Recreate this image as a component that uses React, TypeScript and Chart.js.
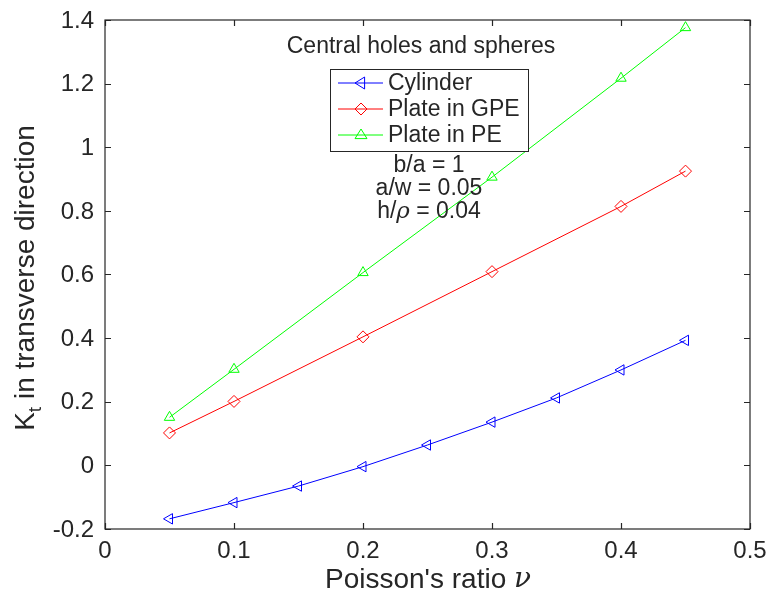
import React, { useEffect, useRef } from "react";
import { Chart, registerables } from "chart.js";

Chart.register(...registerables);

const nuCylinder = [0.05, 0.1, 0.15, 0.2, 0.25, 0.3, 0.35, 0.4, 0.45];
const ktCylinder = [-0.168, -0.117, -0.065, -0.004, 0.064, 0.136, 0.212, 0.3, 0.393];
const nuPlate = [0.05, 0.1, 0.2, 0.3, 0.4, 0.45];
const ktPlateGPE = [0.102, 0.201, 0.404, 0.609, 0.814, 0.925];
const ktPlatePE = [0.151, 0.302, 0.606, 0.906, 1.217, 1.376];
const xTicks = [0, 0.1, 0.2, 0.3, 0.4, 0.5];
const yTicks = [-0.2, 0, 0.2, 0.4, 0.6, 0.8, 1, 1.2, 1.4];
const xTickLabels = ["0", "0.1", "0.2", "0.3", "0.4", "0.5"];
const yTickLabels = ["-0.2", "0", "0.2", "0.4", "0.6", "0.8", "1", "1.2", "1.4"];
const seriesNames = ["Cylinder", "Plate in GPE", "Plate in PE"];
const seriesColors = ["#0000ff", "#ff0000", "#00ff00"];
const titleText = "Central holes and spheres";
const noteLines = ["b/a = 1", "a/w = 0.05", "h/\u03C1 = 0.04"];

const FONT = '"Liberation Sans", Arial, Helvetica, sans-serif';
const SERIF_IT = 'italic 23px "DejaVu Serif", "Liberation Serif", serif';
const TXT = "#262626";

function drawMarker(ctx: CanvasRenderingContext2D, kind: number, x: number, y: number, color: string) {
  ctx.save();
  ctx.strokeStyle = color;
  ctx.lineWidth = 1;
  ctx.fillStyle = "#ffffff";
  ctx.beginPath();
  const r = 6;
  if (kind === 0) {
    ctx.moveTo(x - r, y);
    ctx.lineTo(x + r * 0.6, y - r);
    ctx.lineTo(x + r * 0.6, y + r);
  } else if (kind === 1) {
    ctx.moveTo(x, y - r);
    ctx.lineTo(x + r, y);
    ctx.lineTo(x, y + r);
    ctx.lineTo(x - r, y);
  } else {
    ctx.moveTo(x, y - r);
    ctx.lineTo(x + r, y + r * 0.6);
    ctx.lineTo(x - r, y + r * 0.6);
  }
  ctx.closePath();
  ctx.stroke();
  ctx.restore();
}

const decorPlugin = {
  id: "decor",
  afterDraw(chart: any) {
    const ctx: CanvasRenderingContext2D = chart.ctx;
    const { left, top, right, bottom } = chart.chartArea;
    const xs = chart.scales.x;
    const ys = chart.scales.y;
    ctx.save();
    // frame
    ctx.strokeStyle = TXT;
    ctx.lineWidth = 1.2;
    ctx.strokeRect(left, top, right - left, bottom - top);
    // inward ticks
    const tl = 6;
    ctx.beginPath();
    xTicks.forEach((v) => {
      const px = Math.round(xs.getPixelForValue(v)) + 0.5;
      ctx.moveTo(px, bottom);
      ctx.lineTo(px, bottom - tl);
      ctx.moveTo(px, top);
      ctx.lineTo(px, top + tl);
    });
    yTicks.forEach((v) => {
      const py = Math.round(ys.getPixelForValue(v)) + 0.5;
      ctx.moveTo(left, py);
      ctx.lineTo(left + tl, py);
      ctx.moveTo(right, py);
      ctx.lineTo(right - tl, py);
    });
    ctx.stroke();

    // tick labels
    ctx.fillStyle = TXT;
    ctx.font = `24px ${FONT}`;
    ctx.textBaseline = "middle";
    ctx.textAlign = "center";
    xTicks.forEach((v, i) => {
      ctx.fillText(xTickLabels[i], xs.getPixelForValue(v), bottom + 22);
    });
    ctx.textAlign = "right";
    yTicks.forEach((v, i) => {
      ctx.fillText(yTickLabels[i], left - 11, ys.getPixelForValue(v) + 1);
    });

    // title text inside
    ctx.fillStyle = TXT;
    ctx.textAlign = "center";
    ctx.textBaseline = "middle";
    ctx.font = `23px ${FONT}`;
    ctx.fillText(titleText, 421, 47);

    // legend
    const lx = 330, ly = 69, lw = 198, lh = 82;
    ctx.fillStyle = "#ffffff";
    ctx.fillRect(lx, ly, lw, lh);
    ctx.strokeStyle = TXT;
    ctx.lineWidth = 1;
    ctx.strokeRect(lx + 0.5, ly + 0.5, lw, lh);
    const rowsY = [83, 109, 135];
    seriesNames.forEach((name, i) => {
      const y = rowsY[i];
      ctx.strokeStyle = seriesColors[i];
      ctx.lineWidth = 1;
      ctx.beginPath();
      ctx.moveTo(338, y);
      ctx.lineTo(383, y);
      ctx.stroke();
      drawMarker(ctx, i, 361, y, seriesColors[i]);
      ctx.fillStyle = TXT;
      ctx.textAlign = "left";
      ctx.textBaseline = "middle";
      ctx.font = `23px ${FONT}`;
      ctx.fillText(name, 388, y + 1);
    });

    // notes
    ctx.textAlign = "center";
    const noteY = [166, 189, 212];
    noteLines.forEach((t, i) => {
      if (i === 2) {
        const a = "h/";
        const b = "\u03C1";
        const c = " = 0.04";
        ctx.font = `23px ${FONT}`;
        const wa = ctx.measureText(a).width;
        const wc = ctx.measureText(c).width;
        ctx.font = SERIF_IT;
        const wb = ctx.measureText(b).width;
        const total = wa + wb + wc;
        const x0 = 429 - total / 2;
        ctx.textAlign = "left";
        ctx.font = `23px ${FONT}`;
        ctx.fillText(a, x0, noteY[i]);
        ctx.font = SERIF_IT;
        ctx.fillText(b, x0 + wa, noteY[i]);
        ctx.font = `23px ${FONT}`;
        ctx.fillText(c, x0 + wa + wb, noteY[i]);
        ctx.textAlign = "center";
      } else {
        ctx.font = `23px ${FONT}`;
        ctx.fillText(t, 429, noteY[i]);
      }
    });

    // x axis title
    {
      const a = "Poisson's ratio ";
      const b = "\u03BD";
      ctx.font = `28px ${FONT}`;
      const wa = ctx.measureText(a).width;
      ctx.font = `italic 28px "DejaVu Serif", "Liberation Serif", serif`;
      const wb = ctx.measureText(b).width;
      const x0 = 428 - (wa + wb) / 2;
      ctx.textAlign = "left";
      ctx.textBaseline = "middle";
      ctx.fillStyle = TXT;
      ctx.font = `28px ${FONT}`;
      ctx.fillText(a, x0, 580);
      ctx.font = `italic 28px "DejaVu Serif", "Liberation Serif", serif`;
      ctx.fillText(b, x0 + wa, 580);
    }

    // y axis title
    {
      ctx.translate(26, 278);
      ctx.rotate(-Math.PI / 2);
      const a = "K";
      const s = "t";
      const c = " in transverse direction";
      ctx.font = `28px ${FONT}`;
      const wa = ctx.measureText(a).width;
      const wc = ctx.measureText(c).width;
      ctx.font = `19px ${FONT}`;
      const ws = ctx.measureText(s).width;
      const x0 = -(wa + ws + wc) / 2;
      ctx.textAlign = "left";
      ctx.textBaseline = "middle";
      ctx.fillStyle = TXT;
      ctx.font = `28px ${FONT}`;
      ctx.fillText(a, x0, 0);
      ctx.font = `19px ${FONT}`;
      ctx.fillText(s, x0 + wa, 10);
      ctx.font = `28px ${FONT}`;
      ctx.fillText(c, x0 + wa + ws, 0);
    }
    ctx.restore();
  },
};

export default function App() {
  const ref = useRef<HTMLCanvasElement | null>(null);
  useEffect(() => {
    document.body.style.margin = "0";
    const canvas = ref.current;
    if (!canvas) return;
    const mk = (xs: number[], ys: number[]) => xs.map((x, i) => ({ x, y: ys[i] }));
    const common = {
      backgroundColor: "rgba(0,0,0,0)",
      borderWidth: 1,
      pointRadius: 6,
      pointBorderWidth: 1,
      pointBackgroundColor: "rgba(0,0,0,0)",
    };
    const chart = new Chart(canvas, {
      type: "line",
      data: {
        datasets: [
          {
            ...common,
            label: seriesNames[0],
            data: mk(nuCylinder, ktCylinder),
            borderColor: seriesColors[0],
            pointBorderColor: seriesColors[0],
            pointStyle: "triangle",
            rotation: -90,
          },
          {
            ...common,
            label: seriesNames[1],
            data: mk(nuPlate, ktPlateGPE),
            borderColor: seriesColors[1],
            pointBorderColor: seriesColors[1],
            pointStyle: "rectRot",
          },
          {
            ...common,
            label: seriesNames[2],
            data: mk(nuPlate, ktPlatePE),
            borderColor: seriesColors[2],
            pointBorderColor: seriesColors[2],
            pointStyle: "triangle",
          },
        ],
      },
      options: {
        responsive: false,
        animation: false,
        layout: { padding: { top: 20, right: 22, left: 0, bottom: 0 } },
        plugins: { legend: { display: false }, tooltip: { enabled: false } },
        elements: { line: { tension: 0 } },
        scales: {
          x: {
            type: "linear",
            min: 0,
            max: 0.5,
            afterFit: (s: any) => {
              s.height = 70;
            },
            ticks: { display: false },
            grid: { display: false, drawTicks: false },
            border: { display: false },
          },
          y: {
            type: "linear",
            min: -0.2,
            max: 1.4,
            afterFit: (s: any) => {
              s.width = 105;
            },
            ticks: { display: false },
            grid: { display: false, drawTicks: false },
            border: { display: false },
          },
        },
      },
      plugins: [decorPlugin],
    } as any);
    return () => chart.destroy();
  }, []);
  return <canvas ref={ref} width={772} height={599} style={{ display: "block" }} />;
}
